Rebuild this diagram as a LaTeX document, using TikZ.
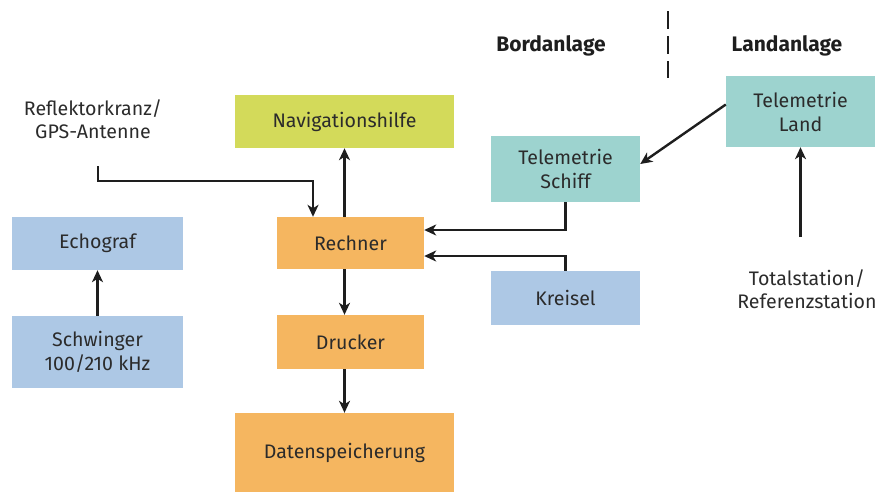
\documentclass[tikz,border=0pt]{standalone}
\usepackage{fontspec}
\setmainfont{Fira Sans}
\usetikzlibrary{arrows.meta}
\definecolor{txt}{HTML}{2B2B2B}
\definecolor{ink}{HTML}{1E1E1E}
\definecolor{navcol}{HTML}{D3DA5A}
\definecolor{telcol}{HTML}{9DD3CF}
\definecolor{bluecol}{HTML}{ADC8E5}
\definecolor{orcol}{HTML}{F5B660}
\tikzset{
  box/.style={rectangle, inner sep=0pt, align=center, text=txt,
    font=\fontsize{19.6}{24}\selectfont},
  lbl/.style={inner sep=0pt, align=center, text=txt,
    font=\fontsize{19.6}{23}\selectfont},
  head/.style={inner sep=0pt, text=ink, font=\fontsize{21}{23}\selectfont\bfseries},
  conn/.style={draw=ink, line width=2.4pt},
  arr/.style={conn, -{Stealth[length=12pt, width=11pt, inset=3.5pt]}},
}
\begin{document}
\begin{tikzpicture}[x=1pt, y=-1pt]
\useasboundingbox (0,0) rectangle (890,493);

% section headings and divider
\node[head] (bord) at (551,46) {Bordanlage};
\node[head] (land) at (787,46) {Landanlage};
\coordinate (divtop) at (668,11);
\coordinate (divbot) at (668,78);
\draw[ink, line width=2.6pt, dash pattern=on 18pt off 7pt] (divtop) -- (divbot);

% blocks
\node[box, fill=navcol, minimum width=219pt, minimum height=53pt] (navi) at (344.5,121.5) {Navigationshilfe};
\node[box, fill=telcol, minimum width=149pt, minimum height=66pt] (tschiff) at (565.5,169) {Telemetrie\\Schiff};
\node[box, fill=telcol, minimum width=149pt, minimum height=71pt] (tland) at (800.5,111.5) {Telemetrie\\Land};
\node[box, fill=bluecol, minimum width=171pt, minimum height=53pt] (echo) at (97.5,243.5) {Echograf};
\node[box, fill=orcol, minimum width=147pt, minimum height=52pt] (rechner) at (350.5,243) {Rechner};
\node[box, fill=bluecol, minimum width=149pt, minimum height=54pt] (kreisel) at (565.5,298) {Kreisel};
\node[box, fill=bluecol, minimum width=171pt, minimum height=72pt] (schw) at (97.5,352) {Schwinger\\100/210 kHz};
\node[box, fill=orcol, minimum width=147pt, minimum height=54pt] (drucker) at (350.5,342) {Drucker};
\node[box, fill=orcol, minimum width=219pt, minimum height=79pt] (daten) at (344.5,452.5) {Datenspeicherung};

% free-standing labels
\node[lbl] (refl) at (93,119) {Reflektorkranz/\\GPS-Antenne};
\node[lbl] (tot) at (807,289) {Totalstation/\\Referenzstation};
\coordinate (reflstart) at (98,166);
\coordinate (totstart) at (800.5,237);

% connectors
\draw[arr] (reflstart) -- ++(0,15) -| ([xshift=-37.5pt]rechner.north);
\draw[arr] (rechner.north -| navi.south) -- (navi.south);
\draw[arr] (rechner.south -| navi.south) -- (drucker.north -| navi.south);
\draw[arr] (drucker.south -| daten.north) -- (daten.north);
\draw[arr] (tschiff.south) |- ([yshift=13pt]rechner.east);
\draw[arr] (kreisel.north) |- ([yshift=-13pt]rechner.east);
\draw[arr] ([yshift=7pt]tland.west) -- ([yshift=5pt]tschiff.east);
\draw[arr] (totstart) -- (tland.south);
\draw[arr] (schw.north) -- (echo.south);
\end{tikzpicture}
\end{document}
